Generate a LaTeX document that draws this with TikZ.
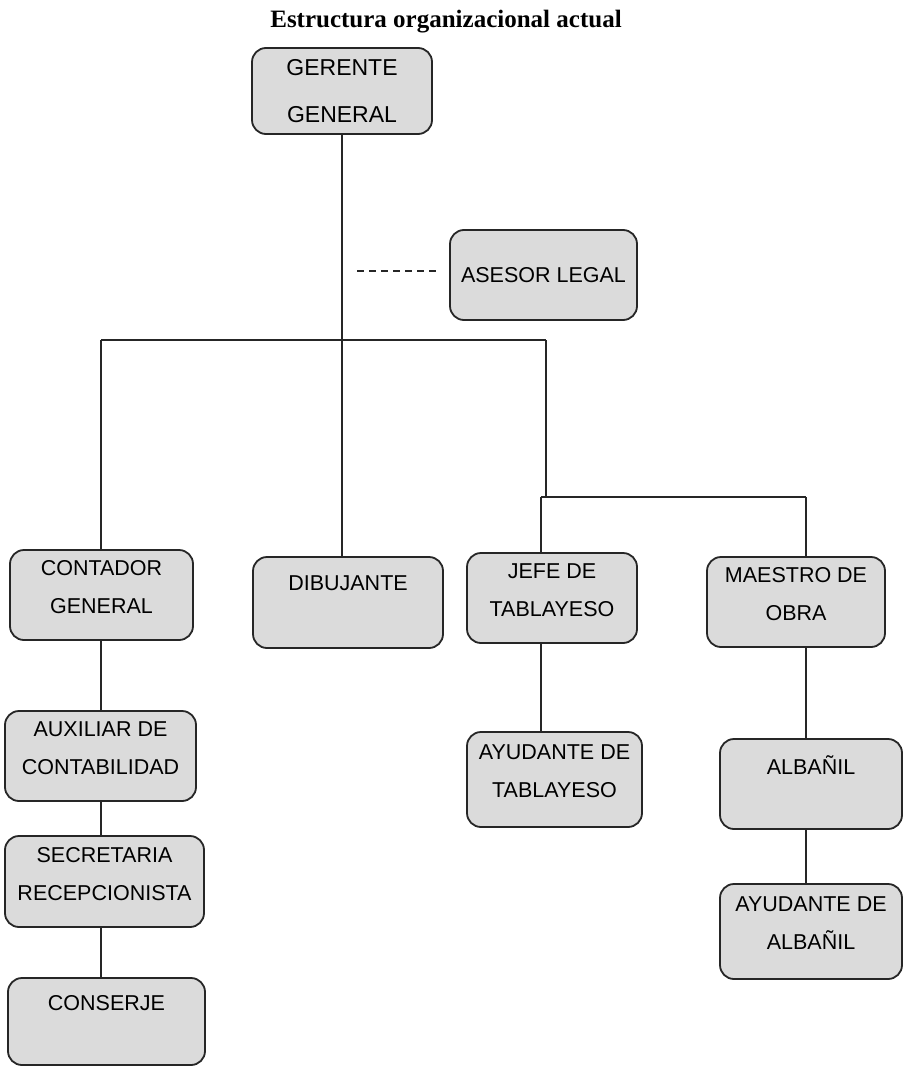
\documentclass[tikz,border=0pt]{standalone}
\usepackage{fontspec}
\setmainfont{Liberation Sans}
\newfontfamily\titlefont{Liberation Serif}

\begin{document}
\begin{tikzpicture}[x=1pt,y=-1pt,
	puesto/.style={draw=black!85, line width=1.8pt, fill=black!14, rounded corners=14pt,
		inner sep=0pt, align=center, font=\fontsize{21.5}{38}\selectfont},
	linea/.style={draw=black!85, line width=1.8pt}]
	\useasboundingbox (0,0) rectangle (904,1067);
	\node[font=\titlefont\bfseries\fontsize{25}{30}\selectfont] (titulo) at (446,22) {Estructura organizacional actual};

	% puestos
	\node[puesto, minimum width=180, minimum height=86, font=\fontsize{23}{47}\selectfont] (ger) at (342,91) {GERENTE\\GENERAL};
	\node[puesto, minimum width=187, minimum height=90] (ase) at (543.5,275) {ASESOR LEGAL};
	\node[puesto, minimum width=183, minimum height=90] (cont) at (101.5,595) {CONTADOR\\GENERAL\\[-22pt]\mbox{}};
	\node[puesto, minimum width=190, minimum height=91] (dib) at (348,602.5) {DIBUJANTE\\\mbox{}};
	\node[puesto, minimum width=170, minimum height=90] (jefe) at (552,598) {JEFE DE\\TABLAYESO\\[-22pt]\mbox{}};
	\node[puesto, minimum width=178, minimum height=90] (mae) at (796,602) {MAESTRO DE\\OBRA\\[-22pt]\mbox{}};
	\node[puesto, minimum width=191, minimum height=90] (aux) at (100.5,756) {AUXILIAR DE\\CONTABILIDAD\\[-22pt]\mbox{}};
	\node[puesto, minimum width=199, minimum height=91] (sec) at (104.5,881.5) {SECRETARIA\\RECEPCIONISTA\\[-22pt]\mbox{}};
	\node[puesto, minimum width=197, minimum height=87] (cons) at (106.5,1021.5) {CONSERJE\\\mbox{}};
	\node[puesto, minimum width=175, minimum height=95] (ayt) at (554.5,779.5) {AYUDANTE DE\\TABLAYESO\\[-22pt]\mbox{}};
	\node[puesto, minimum width=182, minimum height=90] (alb) at (811,784) {ALBAÑIL\\\mbox{}};
	\node[puesto, minimum width=182, minimum height=95] (aya) at (811,931.5) {AYUDANTE DE\\ALBAÑIL\\[-22pt]\mbox{}};

	% lineas de mando
	\coordinate (barL) at (101,340);
	\coordinate (barR) at (546,340);
	\coordinate (ctab) at (541,497);
	\coordinate (cmae) at (806,497);
	\coordinate (dashL) at (357,271);
	\draw[linea] (ger.south) -- (ger.south |- dib.north);
	\draw[linea] (barL) -- (barR);
	\draw[linea] (barL) -- (barL |- cont.north);
	\draw[linea] (barR) -- (barR |- ctab);
	\draw[linea] (ctab) -- (cmae);
	\draw[linea] (ctab) -- (ctab |- jefe.north);
	\draw[linea] (cmae) -- (cmae |- mae.north);
	\draw[linea] (ctab |- jefe.south) -- (ctab |- ayt.north);
	\draw[linea] (cmae |- mae.south) -- (cmae |- alb.north);
	\draw[linea] (cmae |- alb.south) -- (cmae |- aya.north);
	\draw[linea] (barL |- cont.south) -- (barL |- aux.north);
	\draw[linea] (barL |- aux.south) -- (barL |- sec.north);
	\draw[linea] (barL |- sec.south) -- (barL |- cons.north);
	% staff
	\draw[linea, line width=1.3pt, dash pattern=on 7pt off 5pt] (dashL) -- +(81,0);
\end{tikzpicture}
\end{document}
